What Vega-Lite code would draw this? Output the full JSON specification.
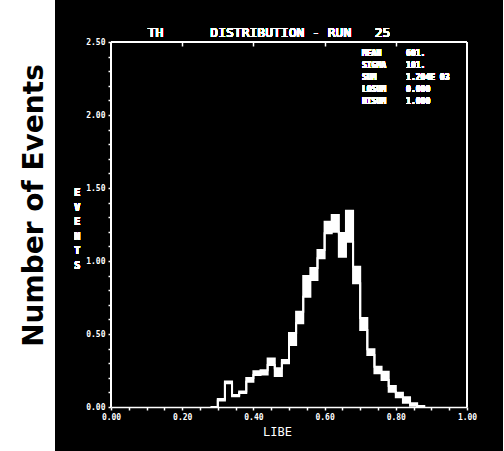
{
  "$schema": "https://vega.github.io/schema/vega-lite/v6.json",
  "background": "black",
  "padding": {"left": 0, "top": 0, "right": 26, "bottom": 0},
  "spacing": 19,
  "hconcat": [
    {
      "width": 55,
      "height": 451,
      "view": {"fill": "white", "stroke": null},
      "data": {"values": [{"t": "Number of Events"}]},
      "mark": {"type": "text", "angle": 270, "font": "DejaVu Sans", "fontWeight": "bold", "fontSize": 28, "color": "black", "dx": 20, "dy": 7, "align": "center", "baseline": "middle"},
      "encoding": {"text": {"field": "t", "type": "nominal"}}
    },
    {
      "width": 356,
      "height": 407,
      "view": {"fill": "black", "stroke": null},
      "data": {"values": [
        {"x": 0.28, "hi": 0, "lo": 0},
        {"x": 0.30, "hi": 0.055, "lo": 0.045},
        {"x": 0.32, "hi": 0.175, "lo": 0.163},
        {"x": 0.34, "hi": 0.083, "lo": 0.073},
        {"x": 0.36, "hi": 0.106, "lo": 0.096},
        {"x": 0.38, "hi": 0.199, "lo": 0.173},
        {"x": 0.40, "hi": 0.245, "lo": 0.219},
        {"x": 0.42, "hi": 0.252, "lo": 0.222},
        {"x": 0.44, "hi": 0.333, "lo": 0.288},
        {"x": 0.46, "hi": 0.265, "lo": 0.212},
        {"x": 0.48, "hi": 0.322, "lo": 0.300},
        {"x": 0.50, "hi": 0.507, "lo": 0.425},
        {"x": 0.52, "hi": 0.653, "lo": 0.573},
        {"x": 0.54, "hi": 0.897, "lo": 0.755},
        {"x": 0.56, "hi": 0.952, "lo": 0.870},
        {"x": 0.58, "hi": 1.075, "lo": 1.018},
        {"x": 0.60, "hi": 1.269, "lo": 1.190},
        {"x": 0.62, "hi": 1.315, "lo": 1.201},
        {"x": 0.64, "hi": 1.192, "lo": 1.029},
        {"x": 0.66, "hi": 1.345, "lo": 1.132},
        {"x": 0.68, "hi": 0.961, "lo": 0.847},
        {"x": 0.70, "hi": 0.610, "lo": 0.527},
        {"x": 0.72, "hi": 0.395, "lo": 0.356},
        {"x": 0.74, "hi": 0.276, "lo": 0.231},
        {"x": 0.76, "hi": 0.242, "lo": 0.185},
        {"x": 0.78, "hi": 0.144, "lo": 0.105},
        {"x": 0.80, "hi": 0.098, "lo": 0.066},
        {"x": 0.82, "hi": 0.066, "lo": 0.029},
        {"x": 0.84, "hi": 0.025, "lo": 0.008},
        {"x": 0.86, "hi": 0.006, "lo": 0},
        {"x": 0.88, "hi": 0, "lo": 0}
      ]},
      "resolve": {"axis": {"x": "independent"}},
      "layer": [
        {
          "mark": {"type": "area", "interpolate": "step-after", "color": "white", "opacity": 1},
          "encoding": {
            "x": {"field": "x", "type": "quantitative", "scale": {"domain": [0, 1], "nice": false},
              "axis": {"orient": "bottom", "title": "LIBE", "tickCount": 100, "values": [0,0.05,0.1,0.15,0.2,0.25,0.3,0.35,0.4,0.45,0.5,0.55,0.6,0.65,0.7,0.75,0.8,0.85,0.9,0.95,1.0],
                "labelExpr": "abs(datum.value*5 - round(datum.value*5)) < 0.001 ? format(datum.value, '.2f') : ''",
                "grid": false, "domainColor": "white", "domainWidth": 1.5, "tickColor": "white", "tickSize": 3, "tickWidth": 1.5,
                "labelColor": "white", "labelFont": "DejaVu Sans Mono", "labelFontWeight": "bold", "labelFontSize": 8, "labelPadding": 3,
                "labelFlush": false, "labelOverlap": false,
                "titleColor": "white", "titleFont": "DejaVu Sans Mono", "titleFontSize": 12, "titleFontWeight": "normal", "titlePadding": 5, "titleX": 166}},
            "y": {"field": "hi", "type": "quantitative", "scale": {"domain": [0, 2.7877], "nice": false},
              "axis": {"title": null, "tickCount": 100, "domain": false,
                "values": [0,0.1,0.2,0.3,0.4,0.5,0.6,0.7,0.8,0.9,1.0,1.1,1.2,1.3,1.4,1.5,1.6,1.7,1.8,1.9,2.0,2.1,2.2,2.3,2.4,2.5],
                "labelExpr": "abs(datum.value*2 - round(datum.value*2)) < 0.001 ? format(datum.value, '.2f') : ''",
                "grid": false, "tickColor": "white", "tickSize": 3, "tickWidth": 1.5,
                "labelColor": "white", "labelFont": "DejaVu Sans Mono", "labelFontWeight": "bold", "labelFontSize": 8, "labelPadding": 3,
                "labelFlush": false, "labelOverlap": false}},
            "y2": {"field": "lo"}
          }
        },
        {
          "mark": {"type": "line", "interpolate": "step-after", "color": "white", "strokeWidth": 2},
          "encoding": {
            "x": {"field": "x", "type": "quantitative",
              "axis": {"orient": "top", "offset": -42, "title": null, "tickCount": 100, "values": [0.2, 0.4, 0.6, 0.8], "labels": false, "domain": false, "grid": false,
                "tickColor": "white", "tickSize": -4, "tickWidth": 1.5}},
            "y": {"field": "hi", "type": "quantitative"}
          }
        },
        {
          "mark": {"type": "line", "interpolate": "step-after", "color": "white", "strokeWidth": 2},
          "encoding": {
            "x": {"field": "x", "type": "quantitative", "axis": null},
            "y": {"field": "lo", "type": "quantitative"}
          }
        },
        {
          "mark": {"type": "rule", "color": "white", "strokeWidth": 1.5},
          "encoding": {
            "x": {"datum": 0, "type": "quantitative", "axis": null},
            "y": {"datum": 0, "type": "quantitative"},
            "y2": {"datum": 2.5}
          }
        },
        {
          "mark": {"type": "rule", "color": "white", "strokeWidth": 1.5},
          "encoding": {
            "x": {"datum": 1, "type": "quantitative", "axis": null},
            "y": {"datum": 0, "type": "quantitative"},
            "y2": {"datum": 2.5}
          }
        },
        {
          "mark": {"type": "rule", "color": "white", "strokeWidth": 1.5},
          "encoding": {
            "x": {"datum": 0, "type": "quantitative", "axis": null},
            "x2": {"datum": 1},
            "y": {"datum": 2.5, "type": "quantitative"}
          }
        },
        {
          "mark": {"type": "text", "text": "TH\u00a0\u00a0\u00a0\u00a0\u00a0\u00a0DISTRIBUTION - RUN\u00a0\u00a0\u00a025", "align": "center", "baseline": "alphabetic",
            "font": "DejaVu Sans Mono", "fontSize": 13, "color": "white"},
          "encoding": {
            "x": {"datum": 0.444, "type": "quantitative", "axis": null},
            "y": {"datum": 2.534, "type": "quantitative"}
          }
        },
        {
          "mark": {"type": "text", "text": ["E", "V", "E", "N", "T", "S"], "lineHeight": 14.6, "align": "center", "baseline": "middle",
            "font": "DejaVu Sans Mono", "fontWeight": "bold", "fontSize": 10, "color": "white"},
          "encoding": {
            "x": {"datum": -0.095, "type": "quantitative", "axis": null},
            "y": {"datum": 1.466, "type": "quantitative"}
          }
        },
        {
          "mark": {"type": "text", "text": ["MEAN", "SIGMA", "SUM", "LOSUM", "HISUM"], "lineHeight": 12, "align": "left", "baseline": "top",
            "font": "DejaVu Sans Mono", "fontWeight": "bold", "fontSize": 8, "color": "white"},
          "encoding": {
            "x": {"datum": 0.705, "type": "quantitative", "axis": null},
            "y": {"datum": 2.445, "type": "quantitative"}
          }
        },
        {
          "mark": {"type": "text", "text": ["601.", "101.", "1.204E 03", "0.000", "1.000"], "lineHeight": 12, "align": "left", "baseline": "top",
            "font": "DejaVu Sans Mono", "fontWeight": "bold", "fontSize": 8, "color": "white"},
          "encoding": {
            "x": {"datum": 0.829, "type": "quantitative", "axis": null},
            "y": {"datum": 2.445, "type": "quantitative"}
          }
        }
      ]
    }
  ]
}
